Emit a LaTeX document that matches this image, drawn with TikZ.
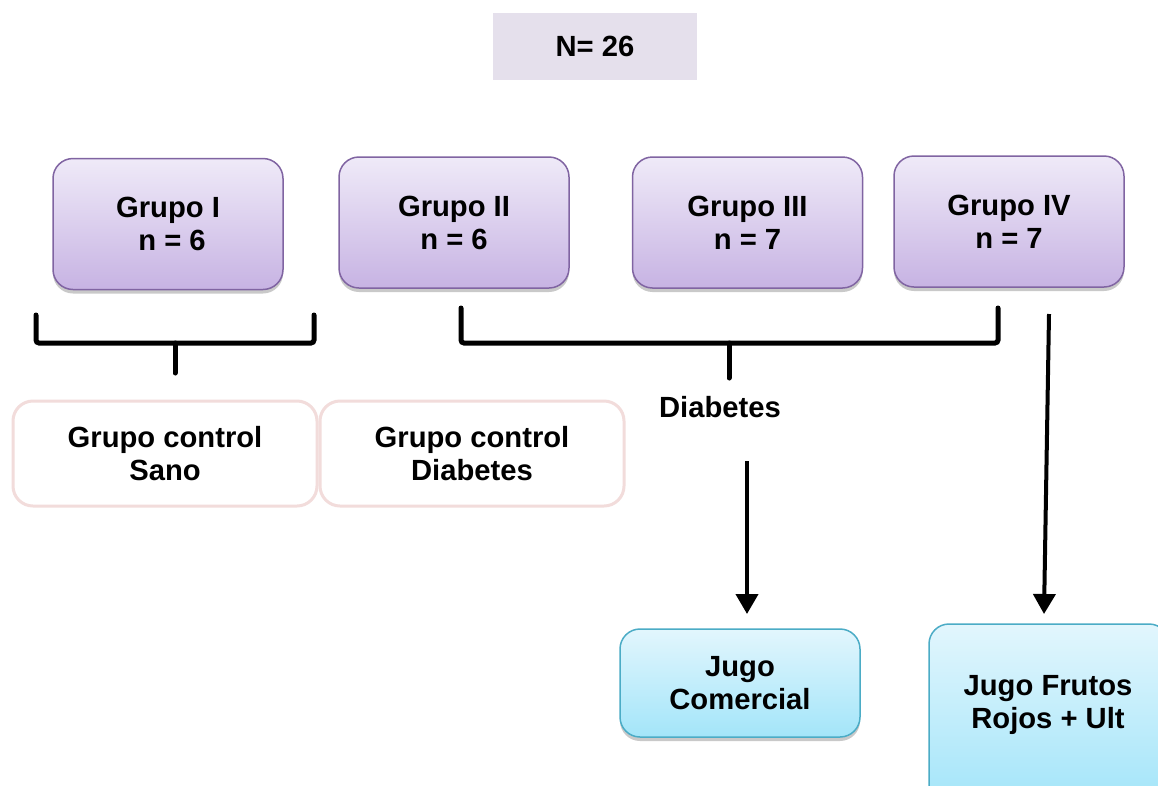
\documentclass[tikz,border=0pt]{standalone}
\usepackage{fontspec}
\setmainfont{Liberation Sans}
\usetikzlibrary{shadows,arrows.meta}
\definecolor{nbox}{HTML}{E5E0EC}
\definecolor{purpTop}{HTML}{EFEAF8}
\definecolor{purpBot}{HTML}{C7B3E3}
\definecolor{purpLine}{HTML}{8064A2}
\definecolor{pinkLine}{HTML}{F2DCDB}
\definecolor{cyanTop}{HTML}{E2F6FD}
\definecolor{cyanBot}{HTML}{A3E5F9}
\definecolor{cyanLine}{HTML}{4BACC6}
\tikzset{
  txt/.style={font=\fontsize{29.2}{33}\selectfont\bfseries, align=center},
  grupo/.style={txt, draw=purpLine, line width=1.5pt, rounded corners=20pt, top color=purpTop, bottom color=purpBot,
    minimum width=230pt, minimum height=131pt, drop shadow={shadow xshift=0pt, shadow yshift=-4pt, opacity=0.35, fill=black!60}},
  ctrl/.style={txt, draw=pinkLine, line width=3pt, rounded corners=20pt, fill=white, minimum width=304pt, minimum height=105pt},
  jugo/.style={txt, draw=cyanLine, line width=1.5pt, rounded corners=20pt, top color=cyanTop, bottom color=cyanBot,
    drop shadow={shadow xshift=0pt, shadow yshift=-4pt, opacity=0.35, fill=black!60}},
  brk/.style={line width=5pt, rounded corners=3pt, line cap=round},
  arr/.style={line width=4pt, -{Triangle[length=20pt,width=22pt]}}
}
\begin{document}
\begin{tikzpicture}[x=1pt,y=-1pt]
\useasboundingbox (0,0) rectangle (1158,785);
\clip (0,0) rectangle (1158,785);
\fill[white] (0,0) rectangle (1158,785);
% N box
\node[txt, fill=nbox, minimum width=204pt, minimum height=67pt] (N) at (595,46.5) {N= 26};
% groups
\node[grupo] (g1) at (168,224) {Grupo I\\\ n = 6};
\node[grupo] (g2) at (454,222.5) {Grupo II\\n = 6};
\node[grupo] (g3) at (747.5,222.5) {Grupo III\\n = 7};
\node[grupo] (g4) at (1009,221.5) {Grupo IV\\n = 7};
% brackets
\coordinate (b1l) at (36,315);
\coordinate (b1r) at (314,315);
\coordinate (b1s) at (175,373);
\draw[brk] (b1l) -- (36,343) -- (314,343) -- (b1r);
\draw[brk] (175,343) -- (b1s);
\coordinate (b2l) at (461,308);
\coordinate (b2r) at (998,308);
\coordinate (b2s) at (729,378);
\draw[brk] (b2l) -- (461,343) -- (998,343) -- (b2r);
\draw[brk] (729,343) -- (b2s);
% labels
\node[txt] (diab) at (720,407) {Diabetes};
\node[ctrl] (cs) at (165,453.5) {Grupo control\\Sano};
\node[ctrl] (cd) at (472,453.5) {Grupo control\\Diabetes};
% juice boxes
\node[jugo, minimum width=240pt, minimum height=108pt] (jc) at (740,683) {Jugo\\Comercial};
\node[jugo, minimum width=240pt, minimum height=180pt] (jf) at (1049,714) {};
\node[txt] (jft) at (1048,705) {Jugo Frutos\\Rojos + Ult};
% arrows
\coordinate (a1s) at (747,461);
\coordinate (a2s) at (1049,314);
\draw[arr] (a1s) -- (747,614);
\draw[arr] (a2s) -- (1044,614);
\end{tikzpicture}
\end{document}
